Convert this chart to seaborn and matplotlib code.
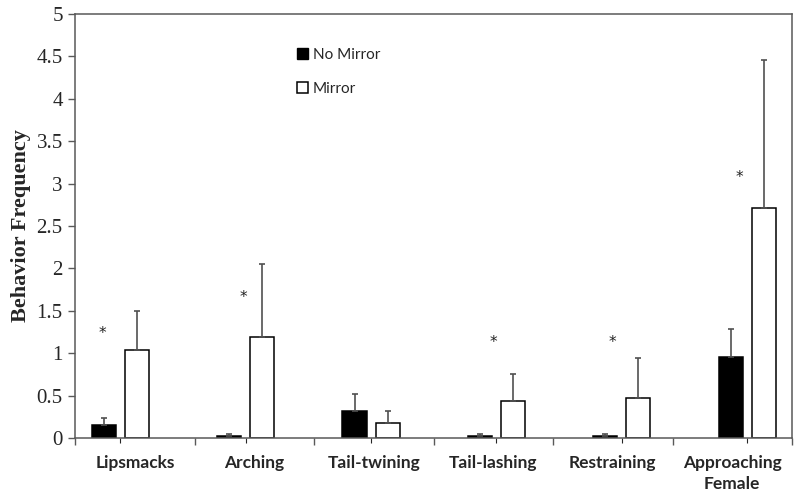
import numpy as np
import pandas as pd
import matplotlib
matplotlib.use("Agg")
import matplotlib.pyplot as plt
import seaborn as sns
from matplotlib.patches import Patch

# values
behaviors = ["Lipsmacks", "Arching", "Tail-twining", "Tail-lashing",
             "Restraining", "Approaching\nFemale"]
no_mirror = [0.15, 0.02, 0.32, 0.02, 0.02, 0.95]
no_mirror_err = [0.09, 0.03, 0.195, 0.03, 0.03, 0.34]
mirror = [1.04, 1.19, 0.18, 0.44, 0.47, 2.71]
mirror_err = [0.46, 0.86, 0.14, 0.32, 0.47, 1.75]
star_height = [1.23, 1.66, np.nan, 1.13, 1.13, 3.07]
star_shift = [-0.27, -0.09, 0.0, 0.0, 0.0, 0.06]

df = pd.DataFrame({
    "behavior": behaviors * 2,
    "freq": no_mirror + mirror,
    "condition": ["No Mirror"] * 6 + ["Mirror"] * 6,
})

sns.set_style("white")
plt.rcParams["font.family"] = ["Liberation Serif", "DejaVu Serif"]

fig = plt.figure(figsize=(8, 5.04), dpi=100)
ax = fig.add_axes([0.094, 0.131, 0.896, 0.841])

sns.barplot(data=df, x="behavior", y="freq", hue="condition",
            palette={"No Mirror": "black", "Mirror": "white"},
            edgecolor="black", linewidth=1.1, width=0.528, gap=0.27,
            errorbar=None, legend=False, ax=ax)

for cont, err in zip(ax.containers, [no_mirror_err, mirror_err]):
    xs = [p.get_x() + p.get_width() / 2 for p in cont]
    hs = [p.get_height() for p in cont]
    ax.errorbar(xs, hs, yerr=[np.zeros(len(err)), err], fmt="none",
                ecolor="#505050", elinewidth=1.2, capsize=2.3, capthick=1.2,
                zorder=3)

# bars drift slightly against the category labels in the original
ax.set_xlim(-0.36, 5.357)
ax.set_ylim(0, 5)
ax.set_yticks(np.arange(0, 5.01, 0.5))
ax.set_yticklabels(["0", "0.5", "1", "1.5", "2", "2.5", "3", "3.5", "4", "4.5", "5"])
ax.tick_params(axis="y", direction="out", length=5, width=1, color="#595959",
               labelsize=15, pad=4, left=True)
ax.tick_params(axis="x", bottom=False, labelbottom=False)
ax.set_xlabel("")
ax.set_ylabel("Behavior Frequency", fontsize=16, fontweight="bold", labelpad=4)
for s in ax.spines.values():
    s.set_visible(True)
    s.set_color("#595959")
    s.set_linewidth(1.1)

# category axis
ax2 = ax.twiny()
ax2.set_xlim(-0.5, 5.5)
ax2.xaxis.tick_bottom()
ax2.set_xticks(np.arange(-0.5, 6.0, 1.0))
ax2.set_xticklabels([])
ax2.set_xticks(np.arange(6), minor=True)
ax2.set_xticklabels(behaviors, minor=True, fontfamily="Lato",
                    fontweight="bold", fontsize=12.5, linespacing=1.45)
ax2.tick_params(axis="x", which="major", direction="out", length=5,
                width=1, color="#595959")
ax2.tick_params(axis="x", which="minor", length=0, pad=12)
for s in ax2.spines.values():
    s.set_visible(False)

for i, h in enumerate(star_height):
    if not np.isnan(h):
        ax2.text(i + star_shift[i], h, "*", ha="center", va="center",
                 fontsize=11, fontfamily="DejaVu Sans", color="#222222")

handles = [Patch(facecolor="black", edgecolor="black"),
           Patch(facecolor="white", edgecolor="black", linewidth=1.1)]
ax2.legend(handles, ["No Mirror", "Mirror"], loc="upper left",
           bbox_to_anchor=(0.29, 0.953), frameon=False,
           prop={"family": "Lato", "size": 11}, handlelength=0.75,
           handleheight=0.75, handletextpad=0.3, labelspacing=1.3)

fig.savefig("out.png", dpi=100)
